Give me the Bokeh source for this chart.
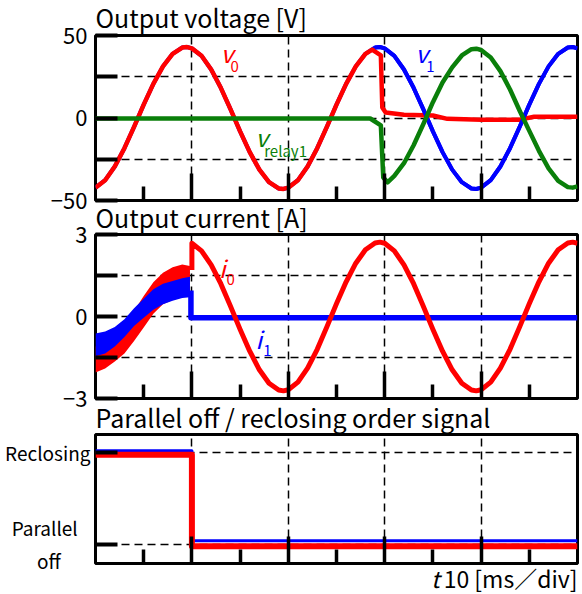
from bokeh.plotting import figure
from bokeh.layouts import column
from bokeh.models import FixedTicker, Label, Range1d
from bokeh.embed import file_html
from bokeh.resources import INLINE

FONT = "Noto Sans CJK JP"
RED = "#ff0000"
BLUE = "#0000ff"
GREEN = "#0a7f0a"

# ---------------- data (time in ms) ----------------
x_major = [10, 20, 30, 40]
x_minor = [5, 15, 25, 35, 45]

# Output voltage [V]
v1_t = [0, 1, 2, 3, 4, 5, 6, 7, 8, 9, 9.5,
        10, 11, 12, 13, 14, 15, 16, 17, 18, 19, 19.5,
        20, 21, 22, 23, 24, 25, 26, 27, 28, 29, 29.5,
        30, 31, 32, 33, 34, 35, 36, 37, 38, 39, 39.5,
        40, 41, 42, 43, 44, 45, 46, 47, 48, 49, 49.5, 50]
v1 = [-42.2, -37.7, -29.4, -18.3, -5.4, 8.1, 20.7, 31.3, 38.9, 42.7, 43.0,
      42.2, 37.7, 29.4, 18.3, 5.4, -8.1, -20.7, -31.3, -38.9, -42.7, -43.0,
      -42.2, -37.7, -29.4, -18.3, -5.4, 8.1, 20.7, 31.3, 38.9, 42.7, 43.0,
      42.2, 37.7, 29.4, 18.3, 5.4, -8.1, -20.7, -31.3, -38.9, -42.7, -43.0,
      -42.2, -37.7, -29.4, -18.3, -5.4, 8.1, 20.7, 31.3, 38.9, 42.7, 43.0, 42.2]

v0_t = [0, 1, 2, 3, 4, 5, 6, 7, 8, 9, 9.5,
        10, 11, 12, 13, 14, 15, 16, 17, 18, 19, 19.5,
        20, 21, 22, 23, 24, 25, 26, 27, 28,
        28.7, 29.6, 29.75, 30.1, 32, 35, 36.5, 40, 44, 45.5, 50]
v0 = [-42.2, -37.7, -29.4, -18.3, -5.4, 8.1, 20.7, 31.3, 38.9, 42.7, 43.0,
      42.2, 37.7, 29.4, 18.3, 5.4, -8.1, -20.7, -31.3, -38.9, -42.7, -43.0,
      -42.2, -37.7, -29.4, -18.3, -5.4, 8.1, 20.7, 31.3, 38.9,
      41.5, 38.0, 6.4, 3.3, 2.0, 1.5, -0.5, -1.0, -1.0, 0.8, 0.8]

vr_t = [0, 28.5, 29.6, 29.85, 30.3, 31, 32, 33, 34, 35, 36, 37, 38, 39, 39.5,
        40, 41, 42, 43, 44, 45, 46, 47, 48, 49, 49.5, 50]
vr = [-0.3, -0.3, -4.5, -36.0, -39.0, -35.1, -27.4, -16.5, -3.8, 9.6, 21.5,
      30.7, 37.9, 41.7, 42.0, 41.2, 36.7, 28.4, 17.3, 4.4, -7.8, -19.9,
      -30.5, -38.1, -41.9, -42.2, -41.4]

# Output current [A]
noise_t = [0, 1, 2, 3, 4, 5, 6, 7, 8, 9, 9.8]
i0_hi = [-1.1, -1.0, -0.7, -0.35, 0.2, 0.75, 1.25, 1.6, 1.8, 1.9, 1.85]
i0_lo = [-2.05, -1.9, -1.65, -1.35, -0.9, -0.4, 0.1, 0.45, 0.6, 0.7, 0.75]
i1_hi = [-0.62, -0.55, -0.38, -0.1, 0.3, 0.65, 1.0, 1.2, 1.3, 1.4, 1.45]
i1_lo = [-1.45, -1.35, -1.1, -0.75, -0.35, -0.05, 0.25, 0.45, 0.58, 0.68, 0.7]

i0_t = [10, 10, 11, 12, 13, 14, 15, 16, 17, 18, 19, 19.5,
        20, 21, 22, 23, 24, 25, 26, 27, 28, 29, 29.5,
        30, 31, 32, 33, 34, 35, 36, 37, 38, 39, 39.5,
        40, 41, 42, 43, 44, 45, 46, 47, 48, 49, 49.5, 50]
i0 = [1.7, 2.68, 2.40, 1.89, 1.20, 0.38, -0.47, -1.27, -1.95, -2.44, -2.69, -2.72,
      -2.68, -2.40, -1.89, -1.20, -0.38, 0.47, 1.27, 1.95, 2.44, 2.69, 2.72,
      2.68, 2.40, 1.89, 1.20, 0.38, -0.47, -1.27, -1.95, -2.44, -2.69, -2.72,
      -2.68, -2.40, -1.89, -1.20, -0.38, 0.47, 1.27, 1.95, 2.44, 2.69, 2.72, 2.68]
i1_t = [9.9, 9.9, 50]
i1 = [0.95, -0.05, -0.05]

# Parallel off (0) / reclosing (1) order signal
sig_t = [0, 10, 10, 50]
sig_red = [0.975, 0.975, -0.02, -0.02]
sig_blue = [1.02, 1.02, 0.04, 0.04]

W = 582
LEFT = 95
RIGHT = 5
NB = "\u00a0"


def make_fig(height, top, bottom, yr, shift, title=None, standoff=0):
    p = figure(width=W, height=height, x_range=Range1d(0, 50), y_range=Range1d(*yr),
               min_border_left=LEFT, min_border_right=RIGHT, min_border_top=top,
               min_border_bottom=bottom, output_backend="svg", toolbar_location=None,
               title=title)
    p.styles = {"margin-top": f"{shift}px"}
    p.background_fill_color = "white"
    p.border_fill_color = None
    p.outline_line_color = "black"
    p.outline_line_width = 3
    if title:
        p.title.text_font = FONT
        p.title.text_font_size = "25px"
        p.title.text_font_style = "normal"
        p.title.text_color = "black"
        p.title.align = "left"
        p.title.offset = 0
        p.title.standoff = standoff
    return p


def style(p, yt, ystub, ygrid, overrides, standoff=8, size="22px"):
    p.xgrid.ticker = FixedTicker(ticks=x_major)
    p.ygrid.ticker = FixedTicker(ticks=ygrid)
    for g in (p.xgrid[0], p.ygrid[0]):
        g.grid_line_color = "black"
        g.grid_line_dash = "8 5"
        g.grid_line_width = 1.5
    xa = p.xaxis[0]
    xa.ticker = FixedTicker(ticks=x_major, minor_ticks=x_minor)
    xa.axis_line_color = None
    xa.major_tick_in = 27
    xa.major_tick_out = 0
    xa.minor_tick_in = 14
    xa.minor_tick_out = 0
    xa.major_tick_line_width = 3.5
    xa.minor_tick_line_width = 3.5
    xa.major_tick_line_color = "black"
    xa.minor_tick_line_color = "black"
    xa.major_label_overrides = {t: "" for t in x_major}
    xa.major_label_text_font_size = "0px"
    xa.major_label_standoff = 0
    ya = p.yaxis[0]
    ya.ticker = FixedTicker(ticks=yt, minor_ticks=ystub)
    ya.axis_line_color = None
    ya.major_tick_in = 22
    ya.major_tick_out = 0
    ya.minor_tick_in = 22
    ya.minor_tick_out = 0
    ya.major_tick_line_width = 4
    ya.minor_tick_line_width = 4
    ya.major_tick_line_color = "black"
    ya.minor_tick_line_color = "black"
    ya.major_label_overrides = overrides
    ya.major_label_text_font = FONT
    ya.major_label_text_font_size = size
    ya.major_label_text_color = "black"
    ya.major_label_standoff = standoff


def lab(p, text, x, y, color="black", size="24px", italic=False, align="left"):
    p.add_layout(Label(x=x, y=y, text=text, text_color=color,
                       text_font=FONT, text_font_size=size,
                       text_font_style="italic" if italic else "normal",
                       text_align=align, text_baseline="middle"))


# ---------------- panel 1: voltage ----------------
p1 = make_fig(223, 41, 17, (-50, 50), -6, "Output voltage [V]", standoff=2)
style(p1, [-50, 0, 50], [-25, 25], [-25, 0, 25],
      {50: "50", 0: "0", -50: "\u221250"})
p1.line(v1_t, v1, color=BLUE, line_width=4, line_join="round")
p1.line(v0_t, v0, color=RED, line_width=4.5, line_join="round")
post = [(t, v) for t, v in zip(v1_t, v1) if t >= 29]
p1.line([a for a, _ in post], [b for _, b in post], color=BLUE, line_width=4, line_join="round")
p1.line(vr_t, vr, color=GREEN, line_width=4.5, line_join="round")
lab(p1, "v", 13.0, 39.4, RED, italic=True)
lab(p1, "0", 14.0, 31.5, RED, "15px")
lab(p1, "v", 33.2, 39.4, BLUE, italic=True)
lab(p1, "1", 34.3, 31.5, BLUE, "15px")
lab(p1, "v", 16.6, -11.5, GREEN, italic=True)
lab(p1, "relay1", 17.5, -19.4, GREEN, "15px")

# ---------------- panel 2: current ----------------
p2 = make_fig(220, 39, 17, (-3, 3), -22, "Output current [A]", standoff=0)
style(p2, [-3, 0, 3], [-1.5, 1.5], [-1.5, 0, 1.5],
      {3: "3", 0: "0", -3: "\u22123"})
p2.varea(x=noise_t, y1=i0_lo, y2=i0_hi, fill_color=RED)
p2.varea(x=noise_t, y1=i1_lo, y2=i1_hi, fill_color=BLUE)
p2.line(i1_t, i1, color=BLUE, line_width=5.5, line_join="round")
p2.line(i0_t, i0, color=RED, line_width=5, line_join="round")
lab(p2, "i", 12.8, 1.81, RED, italic=True)
lab(p2, "0", 13.6, 1.37, RED, "15px")
lab(p2, "i", 16.6, -0.79, BLUE, italic=True)
lab(p2, "1", 17.4, -1.26, BLUE, "15px")

# ---------------- panel 3: order signal ----------------
p3 = make_fig(178, 39, 10, (-0.207, 1.196), -20, "Parallel off / reclosing order signal", standoff=0)
style(p3, [0, 1], [], [0, 1],
      {1: "Reclosing", 0: "Parallel" + NB * 3 + "\noff" + NB * 7},
      standoff=5, size="19px")
p3.line(sig_t, sig_blue, color=BLUE, line_width=3, line_join="round")
p3.line(sig_t, sig_red, color=RED, line_width=6, line_join="round")

# ---------------- time-scale caption ----------------
p4 = figure(width=W, height=34, x_range=Range1d(0, 50), y_range=Range1d(0, 1),
            min_border_left=LEFT, min_border_right=RIGHT, min_border_top=0,
            min_border_bottom=0, output_backend="svg", toolbar_location=None)
p4.styles = {"margin-top": "-13px"}
p4.axis.visible = False
p4.grid.visible = False
p4.outline_line_color = None
p4.background_fill_color = None
p4.border_fill_color = None
lab(p4, "t", 34.8, 0.5, "black", "23px", italic=True)
lab(p4, "10 [ms\uff0fdiv]", 50, 0.5, "black", "23px", align="right")

layout = column(p1, p2, p3, p4)
open("out.html", "w").write(file_html(layout, INLINE))
